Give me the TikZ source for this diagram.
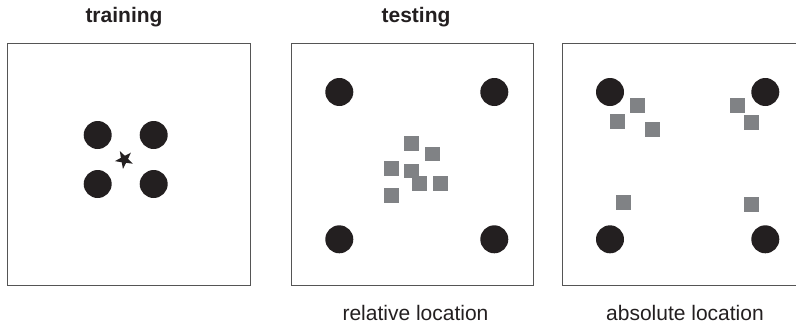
\documentclass[tikz,border=0pt]{standalone}
\usepackage{fontspec}
\setmainfont{Liberation Sans}
\definecolor{dotc}{HTML}{231F20}
\definecolor{sqc}{HTML}{808285}
\definecolor{framec}{HTML}{555555}
\tikzset{
  arena/.style={draw=framec, line width=1pt},
  landmark/.style={circle, fill=dotc, draw=none, minimum size=28pt, inner sep=0pt},
  guess/.style={rectangle, fill=sqc, draw=none, minimum size=14.5pt, inner sep=0pt},
  goal/.style={fill=dotc, draw=none},
  title/.style={font=\fontsize{21}{24}\selectfont\bfseries, text=dotc},
  caption/.style={font=\fontsize{21}{24}\selectfont, text=dotc}
}
\begin{document}
\begin{tikzpicture}[x=1pt, y=-1pt]
\useasboundingbox (0,0) rectangle (796,327);
\clip (0,0) rectangle (796,327);
% titles
\node[title] (ttrain) at (124,17.5) {training};
\node[title] (ttest) at (416,17.5) {testing};
% boxes
\draw[arena] (7.5,43.5) rectangle (250,285.5);
\draw[arena] (291,43.5) rectangle (533,285.5);
\draw[arena] (562,43.5) rectangle (812,285.5);
% training
\node[landmark] (a1) at (97.7,135) {};
\node[landmark] (a2) at (153.7,135) {};
\node[landmark] (a3) at (97.7,184) {};
\node[landmark] (a4) at (153.7,184) {};
\coordinate (star) at (124.3,159.5);
\fill[goal, shift={(star)}]
  (98:9.5) -- (134:3.8) -- (170:9.5) -- (206:3.8) -- (242:9.5) -- (278:3.8)
  -- (314:9.5) -- (350:3.8) -- (26:9.5) -- (62:3.8) -- cycle;
% relative
\node[landmark] (b1) at (339.3,92) {};
\node[landmark] (b2) at (494.3,92) {};
\node[landmark] (b3) at (339.3,239.3) {};
\node[landmark] (b4) at (494.3,239.3) {};
\node[guess] (r1) at (411.3,143.3) {};
\node[guess] (r2) at (432.3,154) {};
\node[guess] (r3) at (391.3,168.3) {};
\node[guess] (r4) at (411.3,171) {};
\node[guess] (r5) at (419.3,183.3) {};
\node[guess] (r6) at (440.3,183.3) {};
\node[guess] (r7) at (391.3,195.3) {};
% absolute
\node[landmark] (c1) at (610,92) {};
\node[landmark] (c2) at (765.3,92) {};
\node[landmark] (c3) at (610,239.3) {};
\node[landmark] (c4) at (765.3,239.3) {};
\node[guess] (s1) at (637.7,105.3) {};
\node[guess] (s2) at (617.3,121.3) {};
\node[guess] (s3) at (652.3,129.3) {};
\node[guess] (s4) at (737.3,105.3) {};
\node[guess] (s5) at (751.3,122.3) {};
\node[guess] (s6) at (623.3,202.3) {};
\node[guess] (s7) at (751.3,204.3) {};
% captions
\node[caption] (crel) at (415.5,313) {relative location};
\node[caption] (cabs) at (685,313) {absolute location};
\end{tikzpicture}
\end{document}
